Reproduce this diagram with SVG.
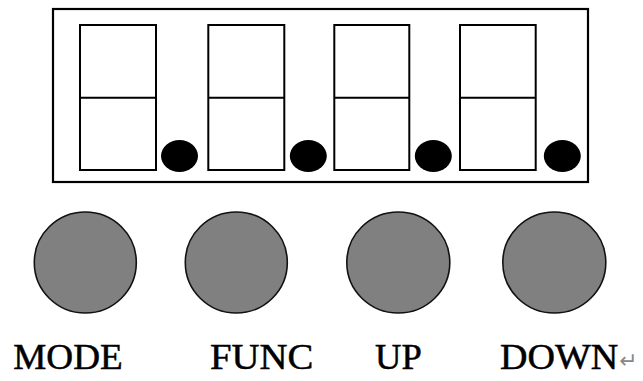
<svg xmlns="http://www.w3.org/2000/svg" width="643" height="381" viewBox="0 0 643 381">
<style>
.frame{fill:#fff;stroke:#000;stroke-width:2.2}
.seg{fill:#fff;stroke:#000;stroke-width:2}
.dp{fill:#000}
.btn{fill:#808080;stroke:#111;stroke-width:1.6}
.lbl{font-family:"Liberation Serif","Times New Roman",serif;font-size:35px;fill:#000;stroke:#000;stroke-width:0.5}
.ret{font-family:"DejaVu Sans",sans-serif;font-size:22px;fill:#888}
</style>
<rect width="643" height="381" fill="#fff"/>
<g id="display">
<rect class="frame" x="53" y="9" width="535" height="173"/>
</g>
<g id="digit1">
<rect class="seg" x="80" y="25" width="76" height="145"/>
<line x1="80" y1="97.7" x2="156" y2="97.7" stroke="#000" stroke-width="2"/>
<ellipse class="dp" cx="179.5" cy="156" rx="18.5" ry="16"/>
</g>
<g id="digit2">
<rect class="seg" x="208.3" y="25" width="76" height="145"/>
<line x1="208.3" y1="97.7" x2="284.3" y2="97.7" stroke="#000" stroke-width="2"/>
<ellipse class="dp" cx="308.3" cy="156" rx="18.5" ry="16"/>
</g>
<g id="digit3">
<rect class="seg" x="334.3" y="25" width="75" height="145"/>
<line x1="334.3" y1="97.7" x2="409.3" y2="97.7" stroke="#000" stroke-width="2"/>
<ellipse class="dp" cx="433.3" cy="156" rx="18.5" ry="16"/>
</g>
<g id="digit4">
<rect class="seg" x="460" y="25" width="75.7" height="145"/>
<line x1="460" y1="97.7" x2="535.7" y2="97.7" stroke="#000" stroke-width="2"/>
<ellipse class="dp" cx="562.3" cy="156" rx="18.5" ry="16"/>
</g>
<g id="btn-mode">
<ellipse class="btn" cx="85.3" cy="262.5" rx="51" ry="50.5"/>
<text class="lbl" x="13.3" y="368.5" textLength="109.4" lengthAdjust="spacingAndGlyphs">MODE</text>
</g>
<g id="btn-func">
<ellipse class="btn" cx="236.3" cy="262.5" rx="51" ry="50.5"/>
<text class="lbl" x="210" y="368.5" textLength="103.3" lengthAdjust="spacingAndGlyphs">FUNC</text>
</g>
<g id="btn-up">
<ellipse class="btn" cx="398.3" cy="262.5" rx="51.5" ry="50.5"/>
<text class="lbl" x="375" y="368.5" textLength="46.7" lengthAdjust="spacingAndGlyphs">UP</text>
</g>
<g id="btn-down">
<ellipse class="btn" cx="554.3" cy="262.5" rx="51.5" ry="50.5"/>
<text class="lbl" x="500" y="368.5" textLength="118.3" lengthAdjust="spacingAndGlyphs">DOWN</text>
<text class="ret" x="619" y="368">↵</text>
</g>
<g id="connectors"/>
</svg>
